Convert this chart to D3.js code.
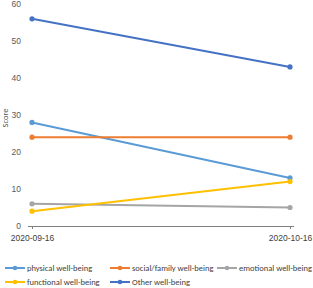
<!DOCTYPE html>
<html>
<head>
<meta charset="utf-8">
<script src="https://cdn.jsdelivr.net/npm/d3@7"></script>
<style>
  body { margin: 0; background: #fff; }
  svg { font-family: Calibri, "Liberation Sans", "DejaVu Sans", sans-serif; }
</style>
</head>
<body>
<div id="chart"></div>
<script>
const fechas = ["2020-09-16", "2020-10-16"];
const seriesNames = ["physical well-being", "social/family well-being", "emotional well-being", "functional well-being", "Other well-being"];
const physical = [28, 13];
const social = [24, 24];
const emotional = [6, 5];
const functional = [4, 12];
const other = [56, 43];
const yTicks = [0, 10, 20, 30, 40, 50, 60];

const colores = ["#5B9BD5", "#ED7D31", "#A5A5A5", "#FFC000", "#4472C4"];
const valores = [physical, social, emotional, functional, other];

const series = seriesNames.map((n, i) => ({
    name: n,
    color: colores[i],
    values: valores[i].map((v, j) => ({ fecha: fechas[j], v: v }))
}));

const W = 313, H = 288;
const svg = d3.select("#chart").append("svg")
    .attr("width", W)
    .attr("height", H);

const x = d3.scalePoint()
    .domain(fechas)
    .range([32, 290]);

const y = d3.scaleLinear()
    .domain([0, 60])
    .range([226, 4]);

// Eje Y (solo etiquetas)
const yAxis = svg.append("g")
    .attr("transform", "translate(24,0)")
    .call(d3.axisLeft(y).tickValues(yTicks).tickSize(0).tickPadding(3));
yAxis.select(".domain").remove();
yAxis.selectAll("text")
    .attr("fill", "#595959")
    .style("font-size", "8.5px");

// Eje X
const xAxis = svg.append("g")
    .attr("transform", "translate(0,226)")
    .call(d3.axisBottom(x).tickSize(3).tickSizeOuter(0).tickPadding(6));
xAxis.select(".domain")
    .attr("d", "M28,0.5H294")
    .attr("stroke", "#7f7f7f");
xAxis.selectAll(".tick line").attr("stroke", "#7f7f7f");
xAxis.selectAll("text")
    .attr("fill", "#404040")
    .style("font-size", "8.5px");

// Etiqueta eje Y
svg.append("text")
    .attr("transform", "translate(8,118) rotate(-90)")
    .attr("text-anchor", "middle")
    .attr("fill", "#595959")
    .style("font-size", "8.5px")
    .text("Score");

// Lineas
const line = d3.line()
    .x(d => x(d.fecha))
    .y(d => y(d.v));

series.forEach(s => {
    svg.append("path")
        .datum(s.values)
        .attr("fill", "none")
        .attr("stroke", s.color)
        .attr("stroke-width", 2)
        .attr("d", line);
    svg.selectAll(null)
        .data(s.values)
        .enter().append("circle")
        .attr("cx", d => x(d.fecha))
        .attr("cy", d => y(d.v))
        .attr("r", 2.6)
        .attr("fill", s.color);
});

// Leyenda
const legPos = [[5, 268], [110, 268], [217, 268], [5, 282], [110, 282]];
series.forEach((s, i) => {
    const g = svg.append("g")
        .attr("transform", `translate(${legPos[i][0]},${legPos[i][1]})`);
    g.append("line")
        .attr("x1", 0).attr("x2", 20)
        .attr("stroke", s.color)
        .attr("stroke-width", 2);
    g.append("circle")
        .attr("cx", 10)
        .attr("r", 2.3)
        .attr("fill", s.color);
    g.append("text")
        .attr("x", 22)
        .attr("dy", "0.33em")
        .attr("fill", "#404040")
        .style("font-size", "8.5px")
        .text(s.name);
});
</script>
</body>
</html>
